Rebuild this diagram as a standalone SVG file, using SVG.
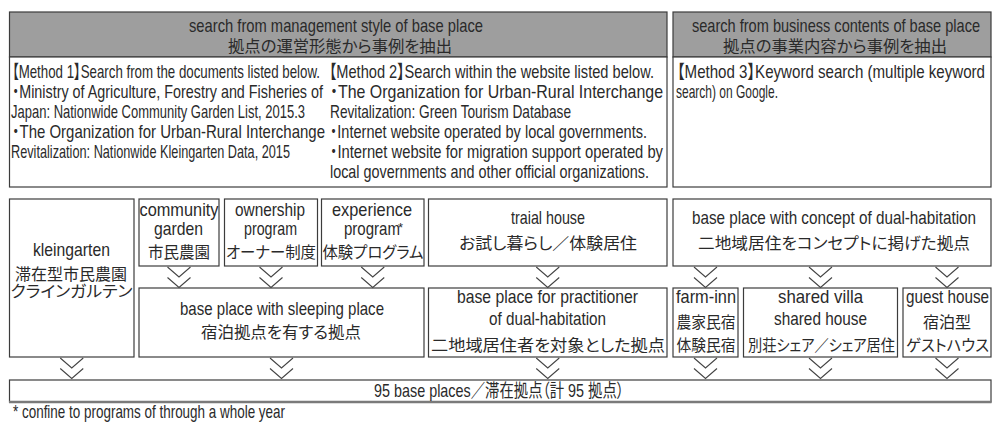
<svg xmlns="http://www.w3.org/2000/svg" xmlns:xlink="http://www.w3.org/1999/xlink" width="995" height="423" viewBox="0 0 995 423">
<style>
.bx{fill:#fff;stroke:#3c3c3c;stroke-width:1.2}
.hd{fill:#9e9e9e;stroke:#3c3c3c;stroke-width:1.2}
text{font-family:'Liberation Sans Narrow','Liberation Sans','Noto Sans CJK JP',sans-serif;font-size:18.5px;fill:#2a2a2a;font-feature-settings:"palt"}
.j{font-family:'Noto Sans CJK JP','Liberation Sans',sans-serif;font-size:16px}
</style>
<defs>
<path id="chv" d="M-11.5,0 L0,10 L11.5,0 M-11.5,10.5 L0,20.5 L11.5,10.5" fill="none" stroke="#444" stroke-width="1.1"/>
</defs>
<rect width="995" height="423" fill="#fff"/>

<g id="header-management">
<rect class="hd" x="9.5" y="12" width="657.5" height="45"/>
<text x="189" y="32" textLength="294" lengthAdjust="spacingAndGlyphs">search from management style of base place</text>
<text class="j" x="228" y="51.5" textLength="224" lengthAdjust="spacingAndGlyphs">拠点の運営形態から事例を抽出</text>
</g>
<g id="header-business">
<rect class="hd" x="673" y="12" width="318" height="45"/>
<text x="692" y="32" textLength="288" lengthAdjust="spacingAndGlyphs">search from business contents of base place</text>
<text class="j" x="723" y="51.5" textLength="224" lengthAdjust="spacingAndGlyphs">拠点の事業内容から事例を抽出</text>
</g>
<g id="methods-1-2">
<rect class="bx" x="9.5" y="57" width="657.5" height="130"/>
<text x="12" y="78" textLength="308" lengthAdjust="spacingAndGlyphs">【Method 1】Search from the documents listed below.</text>
<text x="12" y="98" textLength="311" lengthAdjust="spacingAndGlyphs">・Ministry of Agriculture, Forestry and Fisheries of</text>
<text x="11" y="118" textLength="294" lengthAdjust="spacingAndGlyphs">Japan: Nationwide Community Garden List, 2015.3</text>
<text x="12" y="138" textLength="313" lengthAdjust="spacingAndGlyphs">・The Organization for Urban-Rural Interchange</text>
<text x="11" y="158" textLength="279" lengthAdjust="spacingAndGlyphs">Revitalization: Nationwide Kleingarten Data, 2015</text>
<text x="329" y="78" textLength="325" lengthAdjust="spacingAndGlyphs">【Method 2】Search within the website listed below.</text>
<text x="330" y="98" textLength="333" lengthAdjust="spacingAndGlyphs">・The Organization for Urban-Rural Interchange</text>
<text x="330" y="118" textLength="241" lengthAdjust="spacingAndGlyphs">Revitalization: Green Tourism Database</text>
<text x="330" y="138" textLength="317" lengthAdjust="spacingAndGlyphs">・Internet website operated by local governments.</text>
<text x="330" y="158" textLength="333" lengthAdjust="spacingAndGlyphs">・Internet website for migration support operated by</text>
<text x="330" y="178" textLength="319" lengthAdjust="spacingAndGlyphs">local governments and other official organizations.</text>
</g>
<g id="method-3">
<rect class="bx" x="673" y="57" width="318" height="130"/>
<text x="677" y="78" textLength="308" lengthAdjust="spacingAndGlyphs">【Method 3】Keyword search (multiple keyword</text>
<text x="676" y="98" textLength="102" lengthAdjust="spacingAndGlyphs">search) on Google.</text>
</g>

<g id="kleingarten">
<rect class="bx" x="9.5" y="199" width="124.5" height="158"/>
<text x="33" y="256" textLength="77" lengthAdjust="spacingAndGlyphs">kleingarten</text>
<text class="j" x="15" y="280" textLength="112" lengthAdjust="spacingAndGlyphs">滞在型市民農園</text>
<text class="j" x="10.5" y="297" textLength="122" lengthAdjust="spacingAndGlyphs">クラインガルテン</text>
</g>
<g id="community-garden">
<rect class="bx" x="139" y="199" width="80" height="67"/>
<text x="139.5" y="216" textLength="79" lengthAdjust="spacingAndGlyphs">community</text>
<text x="154" y="235" textLength="49" lengthAdjust="spacingAndGlyphs">garden</text>
<text class="j" x="148" y="258" textLength="62" lengthAdjust="spacingAndGlyphs">市民農園</text>
</g>
<g id="ownership-program">
<rect class="bx" x="224.5" y="199" width="93" height="67"/>
<text x="235" y="216" textLength="70" lengthAdjust="spacingAndGlyphs">ownership</text>
<text x="244" y="235" textLength="53" lengthAdjust="spacingAndGlyphs">program</text>
<text class="j" x="226" y="258" textLength="90" lengthAdjust="spacingAndGlyphs">オーナー制度</text>
</g>
<g id="experience-program">
<rect class="bx" x="321.5" y="199" width="102.5" height="67"/>
<text x="332" y="216" textLength="80" lengthAdjust="spacingAndGlyphs">experience</text>
<text x="344" y="235"><tspan textLength="56" lengthAdjust="spacingAndGlyphs">program</tspan><tspan x="398" y="232" font-size="13">*</tspan></text>
<text class="j" x="322.5" y="258" textLength="101" lengthAdjust="spacingAndGlyphs">体験プログラム</text>
</g>
<g id="trial-house">
<rect class="bx" x="428.5" y="199" width="238.5" height="67"/>
<text x="511" y="224" textLength="74" lengthAdjust="spacingAndGlyphs">traial house</text>
<text class="j" x="459" y="249" textLength="178" lengthAdjust="spacingAndGlyphs">お試し暮らし／体験居住</text>
</g>
<g id="dual-habitation-concept">
<rect class="bx" x="673" y="199" width="318" height="67"/>
<text x="692" y="224" textLength="284" lengthAdjust="spacingAndGlyphs">base place with concept of dual-habitation</text>
<text class="j" x="698" y="249" textLength="272" lengthAdjust="spacingAndGlyphs">二地域居住をコンセプトに掲げた拠点</text>
</g>

<g id="sleeping-place">
<rect class="bx" x="139" y="288" width="285" height="69"/>
<text x="180" y="315" textLength="204" lengthAdjust="spacingAndGlyphs">base place with sleeping place</text>
<text class="j" x="201" y="338" textLength="160" lengthAdjust="spacingAndGlyphs">宿泊拠点を有する拠点</text>
</g>
<g id="practitioner">
<rect class="bx" x="428.5" y="288" width="238.5" height="69"/>
<text x="457" y="303" textLength="181" lengthAdjust="spacingAndGlyphs">base place for practitioner</text>
<text x="489" y="325" textLength="117" lengthAdjust="spacingAndGlyphs">of dual-habitation</text>
<text class="j" x="431" y="351" textLength="234" lengthAdjust="spacingAndGlyphs">二地域居住者を対象とした拠点</text>
</g>
<g id="farm-inn">
<rect class="bx" x="673" y="288" width="65" height="69"/>
<text x="676" y="303" textLength="60" lengthAdjust="spacingAndGlyphs">farm-inn</text>
<text class="j" x="676.5" y="328" textLength="59" lengthAdjust="spacingAndGlyphs">農家民宿</text>
<text class="j" x="676.5" y="351" textLength="59" lengthAdjust="spacingAndGlyphs">体験民宿</text>
</g>
<g id="shared-villa">
<rect class="bx" x="743.5" y="288" width="154" height="69"/>
<text x="778" y="303" textLength="85" lengthAdjust="spacingAndGlyphs">shared villa</text>
<text x="774" y="325" textLength="93" lengthAdjust="spacingAndGlyphs">shared house</text>
<text class="j" x="748" y="351" textLength="147" lengthAdjust="spacingAndGlyphs">別荘シェア／シェア居住</text>
</g>
<g id="guest-house">
<rect class="bx" x="903" y="288" width="88" height="69"/>
<text x="906" y="303" textLength="83" lengthAdjust="spacingAndGlyphs">guest house</text>
<text class="j" x="923" y="328" textLength="48" lengthAdjust="spacingAndGlyphs">宿泊型</text>
<text class="j" x="906" y="351" textLength="83" lengthAdjust="spacingAndGlyphs">ゲストハウス</text>
</g>

<g id="total">
<rect class="bx" x="9.5" y="380" width="981.5" height="22"/>
<line x1="9" y1="402" x2="991.5" y2="402" stroke="#7a7a7a" stroke-width="2.4"/>
<text x="374" y="397" textLength="250" lengthAdjust="spacingAndGlyphs">95 base places／滞在拠点（計 95 拠点）</text>
</g>

<g id="connectors">
<use xlink:href="#chv" x="179" y="267"/>
<use xlink:href="#chv" x="271" y="267"/>
<use xlink:href="#chv" x="372.75" y="267"/>
<use xlink:href="#chv" x="547.75" y="267"/>
<use xlink:href="#chv" x="705.5" y="267"/>
<use xlink:href="#chv" x="820.5" y="267"/>
<use xlink:href="#chv" x="947" y="267"/>
<use xlink:href="#chv" x="71.75" y="358"/>
<use xlink:href="#chv" x="281.5" y="358"/>
<use xlink:href="#chv" x="547.75" y="358"/>
<use xlink:href="#chv" x="705.5" y="358"/>
<use xlink:href="#chv" x="820.5" y="358"/>
<use xlink:href="#chv" x="947" y="358"/>
</g>

<text id="footnote" x="13" y="418" textLength="272" lengthAdjust="spacingAndGlyphs">* confine to programs of through a whole year</text>
</svg>
